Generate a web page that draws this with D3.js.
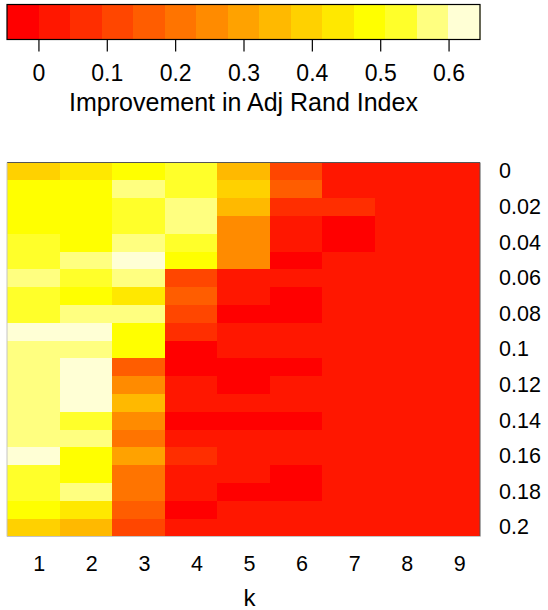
<!DOCTYPE html>
<html>
<head>
<meta charset="utf-8">
<script src="https://cdn.jsdelivr.net/npm/d3@7/dist/d3.min.js"></script>
<style>
body{margin:0;background:#fff;}
svg text{font-family:"Liberation Sans",Arial,Helvetica,sans-serif;fill:#000;}
</style>
</head>
<body>
<script>
////Data
//k values (columns) and noise levels (rows)
var kValues = [1,2,3,4,5,6,7,8,9]
var noiseLevels = [0,0.01,0.02,0.03,0.04,0.05,0.06,0.07,0.08,0.09,0.1,0.11,0.12,0.13,0.14,0.15,0.16,0.17,0.18,0.19,0.2]
var noiseTicks = [0,0.02,0.04,0.06,0.08,0.1,0.12,0.14,0.16,0.18,0.2]
var legendTicks = [0,0.1,0.2,0.3,0.4,0.5,0.6]

//Improvement in Adj Rand Index, one array per k (top row = noise 0)
var impK1 = [0.39,0.48,0.49,0.48,0.53,0.52,0.57,0.53,0.52,0.62,0.58,0.57,0.58,0.57,0.58,0.57,0.63,0.53,0.52,0.49,0.40]
var impK2 = [0.44,0.49,0.48,0.49,0.48,0.58,0.53,0.48,0.57,0.63,0.58,0.62,0.646,0.63,0.53,0.57,0.48,0.49,0.57,0.44,0.35]
var impK3 = [0.49,0.57,0.53,0.52,0.58,0.64,0.57,0.44,0.58,0.48,0.49,0.16,0.26,0.35,0.25,0.21,0.30,0.20,0.21,0.17,0.12]
var impK4 = [0.53,0.52,0.57,0.58,0.53,0.48,0.12,0.16,0.11,0.07,-0.046,-0.02,0.01,0.02,-0.01,0.02,0.06,0.03,0.02,-0.02,0.01]
var impK5 = [0.35,0.39,0.34,0.26,0.25,0.26,0.03,0.02,-0.01,0.02,0.01,-0.02,-0.01,0.02,-0.02,0.01,0.02,0.03,-0.01,0.02,0.01]
var impK6 = [0.12,0.17,0.07,0.03,0.02,-0.01,0.02,-0.01,-0.02,0.01,0.02,-0.01,0.01,0.02,-0.01,0.01,0.02,-0.01,-0.02,0.01,0.02]
var impK7 = [0.03,0.02,0.06,-0.01,-0.01,0.02,0.01,0.02,0.01,0.02,0.01,0.02,0.01,0.01,0.02,0.01,0.02,0.01,0.01,0.02,0.01]
var impK8 = [0.01,0.02,0.01,0.02,0.01,0.01,0.02,0.01,0.01,0.02,0.01,0.01,0.02,0.01,0.01,0.02,0.01,0.01,0.02,0.01,0.01]
var impK9 = [0.02,0.01,0.01,0.02,0.01,0.02,0.01,0.01,0.02,0.01,0.01,0.02,0.01,0.02,0.01,0.01,0.02,0.01,0.01,0.02,0.01]
var improvement = [impK1,impK2,impK3,impK4,impK5,impK6,impK7,impK8,impK9]

////Colour palette like R heat.colors(15)
function heatColors(n){
    var j = Math.floor(n/4), i = n - j, out = []
    for(var a=0;a<i;a++){ //red to yellow hues
        out.push(d3.rgb(255, Math.round(255*a/(i-1)), 0).formatHex())
    }
    for(var b=0;b<j;b++){ //yellow to white saturation
        var s = (1-1/(2*j)) - b*((1-1/(2*j))-1/(2*j))/(j-1)
        out.push(d3.rgb(255,255,Math.round(255*(1-s))).formatHex())
    }
    return out
}

//Flatten the matrix into cells
var cells = []
kValues.forEach(function(k,i){
    noiseLevels.forEach(function(n,j){
        cells.push({k:k,noise:n,value:improvement[i][j]})
    })
})

var extent = d3.extent(cells,function(d){return d.value})
var color = d3.scaleQuantize().domain(extent).range(heatColors(15))

////Layout
var plotLeft = 7, plotRight = 480
var svg = d3.select("body").append("svg").attr("width",548).attr("height",610)

///Colour legend
var legendTop = 4.5, legendBottom = 39.5
var legendX = d3.scaleLinear().domain(extent).range([plotLeft,plotRight])

svg.append("g").selectAll("rect")
    .data(color.range())
    .enter().append("rect")
    .attr("x",function(c){return legendX(color.invertExtent(c)[0])})
    .attr("width",function(c){var e = color.invertExtent(c); return legendX(e[1])-legendX(e[0])+0.5})
    .attr("y",legendTop)
    .attr("height",legendBottom-legendTop)
    .attr("fill",function(c){return c})
    .attr("shape-rendering","crispEdges")

svg.append("rect") //Legend border
    .attr("x",plotLeft).attr("y",legendTop)
    .attr("width",plotRight-plotLeft).attr("height",legendBottom-legendTop)
    .attr("fill","none").attr("stroke","#000").attr("stroke-width",1.2)

var legendAxis = svg.append("g")
    .attr("transform","translate(0,"+legendBottom+")")
    .call(d3.axisBottom(legendX).tickValues(legendTicks).tickSize(12).tickFormat(function(d){return String(d)}))
legendAxis.select(".domain").remove()
legendAxis.selectAll("line").attr("stroke","#000").attr("stroke-width",1.2)
legendAxis.selectAll("text")
    .attr("dy",null).attr("y",41)
    .style("font-size","23px")
    .style("font-family","'Liberation Sans',Arial,sans-serif")

svg.append("text") //Legend title
    .attr("x",(plotLeft+plotRight)/2).attr("y",111)
    .attr("text-anchor","middle")
    .style("font-size","25px")
    .text("Improvement in Adj Rand Index")

///Heatmap
var plotTop = 162.5, plotBottom = 536.5
var x = d3.scaleBand().domain(kValues).range([plotLeft,plotRight])
var y = d3.scaleBand().domain(noiseLevels).range([plotTop,plotBottom])

svg.append("g").selectAll("rect")
    .data(cells)
    .enter().append("rect")
    .attr("x",function(d){return x(d.k)})
    .attr("y",function(d){return y(d.noise)})
    .attr("width",x.bandwidth()+0.4)
    .attr("height",y.bandwidth()+0.4)
    .attr("fill",function(d){return color(d.value)})
    .attr("shape-rendering","crispEdges")

//Frame: dark on top/right, light on left/bottom
svg.append("path")
    .attr("d","M"+plotLeft+","+plotTop+"H"+plotRight+"V"+plotBottom)
    .attr("fill","none").attr("stroke","#555").attr("stroke-width",1)
svg.append("path")
    .attr("d","M"+plotLeft+","+plotTop+"V"+plotBottom+"H"+plotRight)
    .attr("fill","none").attr("stroke","#c4c4c4").attr("stroke-width",1)

//Bottom axis (k)
var xAxis = svg.append("g")
    .attr("transform","translate(0,"+plotBottom+")")
    .call(d3.axisBottom(x).tickSize(0))
xAxis.select(".domain").remove()
xAxis.selectAll("text")
    .attr("dy",null).attr("y",34).attr("dx",6)
    .style("font-size","21.5px")
    .style("font-family","'Liberation Sans',Arial,sans-serif")

svg.append("text") //k title
    .attr("x",(plotLeft+plotRight)/2+6).attr("y",606)
    .attr("text-anchor","middle")
    .style("font-size","24px")
    .text("k")

//Right axis (noise level)
var yAxis = svg.append("g")
    .attr("transform","translate("+plotRight+",0)")
    .call(d3.axisRight(y).tickValues(noiseTicks).tickSize(0).tickPadding(19).tickFormat(function(d){return String(d)}))
yAxis.select(".domain").remove()
yAxis.selectAll("text")
    .style("font-size","21.5px")
    .style("font-family","'Liberation Sans',Arial,sans-serif")
</script>
</body>
</html>
